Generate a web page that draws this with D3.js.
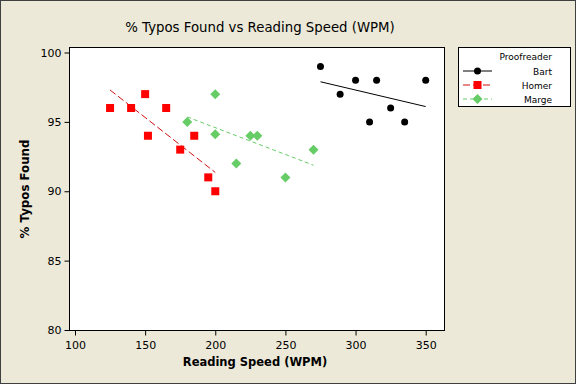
<!DOCTYPE html>
<html>
<head>
<meta charset="utf-8">
<script src="https://d3js.org/d3.v7.min.js"></script>
<style>
  body { margin: 0; background: #ece9d8; }
  svg { display: block; font-family: "DejaVu Sans", sans-serif; }
</style>
</head>
<body>
<svg id="chart" width="576" height="384"></svg>
<script>
// data
const bartWpm = [275, 289, 300, 315, 310, 325, 335, 350];
const bartPct = [99, 97, 98, 98, 95, 96, 95, 98];
const homerWpm = [125, 140, 150, 165, 152, 175, 185, 195, 200];
const homerPct = [96, 96, 97, 96, 94, 93, 94, 91, 90];
const margeWpm = [200, 180, 200, 225, 230, 215, 250, 270];
const margePct = [97, 95, 94.1, 94, 94, 92, 91, 93];
const xTicks = [100, 150, 200, 250, 300, 350];
const yTicks = [80, 85, 90, 95, 100];

const series = [
  { name: "Bart", x: bartWpm, y: bartPct, color: "#000000", shape: "circle", dash: null },
  { name: "Homer", x: homerWpm, y: homerPct, color: "#ff0000", lineColor: "#d01010", shape: "square", dash: "7,3" },
  { name: "Marge", x: margeWpm, y: margePct, color: "#66cc66", shape: "diamond", dash: "4,3" }
];

const svg = d3.select("#chart");
const pLeft = 69, pRight = 444, pTop = 47, pBottom = 330;

svg.append("rect").attr("x", 0.5).attr("y", 0.5).attr("width", 575).attr("height", 383)
  .attr("fill", "#ece9d8").attr("stroke", "#404040");

let x = d3.scaleLinear().domain([100, 350]).range([75, 425.7]);
let y = d3.scaleLinear().domain([80, 100]).range([330, 52.5]);

svg.append("rect").attr("x", pLeft + 0.5).attr("y", pTop + 0.5)
  .attr("width", pRight - pLeft).attr("height", pBottom - pTop)
  .attr("fill", "#ffffff").attr("stroke", "#000");

svg.append("text").attr("x", 260).attr("y", 32).attr("text-anchor", "middle")
  .attr("font-size", 13.3).attr("fill", "#000")
  .text("% Typos Found vs Reading Speed (WPM)");

let xAxis = svg.append("g").attr("transform", `translate(0,${pBottom + 0.5})`)
  .call(d3.axisBottom(x).tickValues(xTicks).tickSize(5).tickSizeOuter(0));
let yAxis = svg.append("g").attr("transform", `translate(${pLeft + 0.5},0)`)
  .call(d3.axisLeft(y).tickValues(yTicks).tickSize(5).tickSizeOuter(0));
[xAxis, yAxis].forEach(a => {
  a.select(".domain").remove();
  a.selectAll("text").attr("font-size", 11).attr("font-family", "DejaVu Sans").attr("fill", "#000");
});
xAxis.selectAll("text").attr("dy", "0.95em");

svg.append("text").attr("x", 255).attr("y", 366).attr("text-anchor", "middle")
  .attr("font-size", 11.5).attr("font-weight", "bold").text("Reading Speed (WPM)");
svg.append("text").attr("transform", "translate(29,189) rotate(-90)")
  .attr("text-anchor", "middle").attr("font-size", 11.8).attr("font-weight", "bold")
  .text("% Typos Found");

function drawMarker(g, shape, color, cx, cy) {
  if (shape === "circle") {
    g.append("circle").attr("cx", cx).attr("cy", cy).attr("r", 3.5).attr("fill", color);
  } else if (shape === "square") {
    g.append("rect").attr("x", cx - 4).attr("y", cy - 4).attr("width", 8).attr("height", 8).attr("fill", color);
  } else {
    g.append("path").attr("d", `M${cx},${cy - 5}L${cx + 5},${cy}L${cx},${cy + 5}L${cx - 5},${cy}Z`).attr("fill", color);
  }
}

function fit(xs, ys) {
  let mx = d3.mean(xs), my = d3.mean(ys);
  let sxy = d3.sum(xs, (v, i) => (v - mx) * (ys[i] - my));
  let sxx = d3.sum(xs, v => (v - mx) * (v - mx));
  let b = sxy / sxx;
  return v => my + b * (v - mx);
}

let plot = svg.append("g");
series.forEach(s => {
  let f = fit(s.x, s.y);
  let [x0, x1] = d3.extent(s.x);
  plot.append("line")
    .attr("x1", x(x0)).attr("y1", y(f(x0)))
    .attr("x2", x(x1)).attr("y2", y(f(x1)))
    .attr("stroke", s.lineColor || s.color).attr("stroke-width", 1)
    .attr("stroke-dasharray", s.dash);
  s.x.forEach((v, i) => drawMarker(plot, s.shape, s.color, x(v), y(s.y[i])));
});

// legend
let lg = svg.append("g");
lg.append("rect").attr("x", 458.5).attr("y", 47.5).attr("width", 112).attr("height", 59)
  .attr("fill", "#fff").attr("stroke", "#000");
lg.append("text").attr("x", 552).attr("y", 60).attr("text-anchor", "end")
  .attr("font-size", 9).text("Proofreader");
series.forEach((s, i) => {
  let ly = 71 + i * 14;
  lg.append("line").attr("x1", 463).attr("x2", 492).attr("y1", ly).attr("y2", ly)
    .attr("stroke", s.lineColor || s.color).attr("stroke-dasharray", s.dash);
  drawMarker(lg, s.shape, s.color, 477.5, ly);
  lg.append("text").attr("x", 552).attr("y", ly + 3.5).attr("text-anchor", "end")
    .attr("font-size", 9).text(s.name);
});
</script>
</body>
</html>
